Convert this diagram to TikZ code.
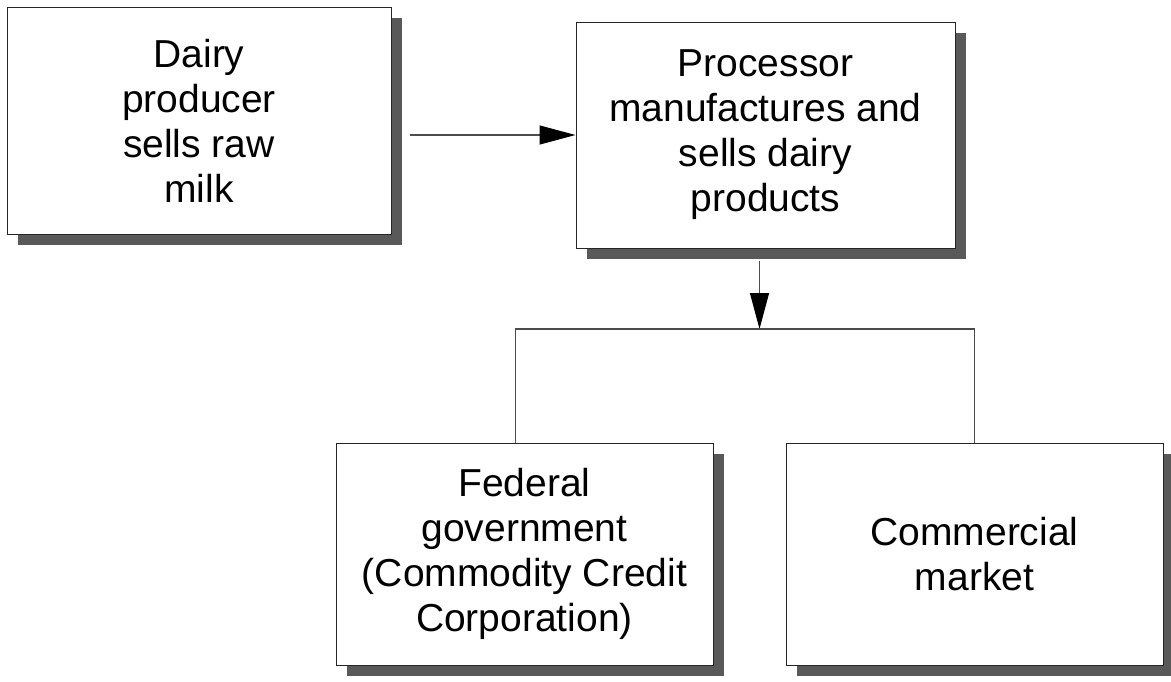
\documentclass[tikz,border=0pt]{standalone}
\usepackage{fontspec}
\setmainfont{Liberation Sans}
\usetikzlibrary{shadows,arrows.meta}
\begin{document}
\begin{tikzpicture}[x=0.5pt, y=-0.5pt,
  box/.style={draw=black!85, line width=0.5pt, fill=white, align=center, inner sep=0pt,
    font=\fontsize{19.5}{22.5}\selectfont,
    drop shadow={shadow xshift=5.5pt, shadow yshift=-5.5pt, fill=black!65, opacity=1}},
  link/.style={draw=black!70, line width=0.6pt},
  flow/.style={link, -{Triangle[length=18pt, width=9.5pt, color=black]}}]
  \useasboundingbox (0,0) rectangle (1171,681);
  \node[box, minimum width=192pt, minimum height=113.5pt] (dairy) at (199,120.5) {Dairy\\producer\\sells raw\\milk};
  \node[box, minimum width=189.5pt, minimum height=113pt] (proc) at (765.5,135) {Processor\\manufactures and\\sells dairy\\products};
  \node[box, minimum width=188.5pt, minimum height=111pt] (fed) at (524.5,554) {Federal\\government\\(Commodity Credit\\Corporation)};
  \node[box, minimum width=188.5pt, minimum height=111pt] (comm) at (974.5,554) {Commercial\\market};
  \coordinate (fork) at ([xshift=-3pt]proc.south |- 0,329);
  \coordinate (fedtop) at ([xshift=-4.5pt]fed.north);
  \draw[flow, shorten <=9pt] (dairy.east |- proc.west) -- (proc.west);
  \draw[flow, shorten <=6pt] ([xshift=-3pt]proc.south) -- (fork);
  \draw[link] (fedtop) |- (fork) -| (comm.north);
\end{tikzpicture}
\end{document}
